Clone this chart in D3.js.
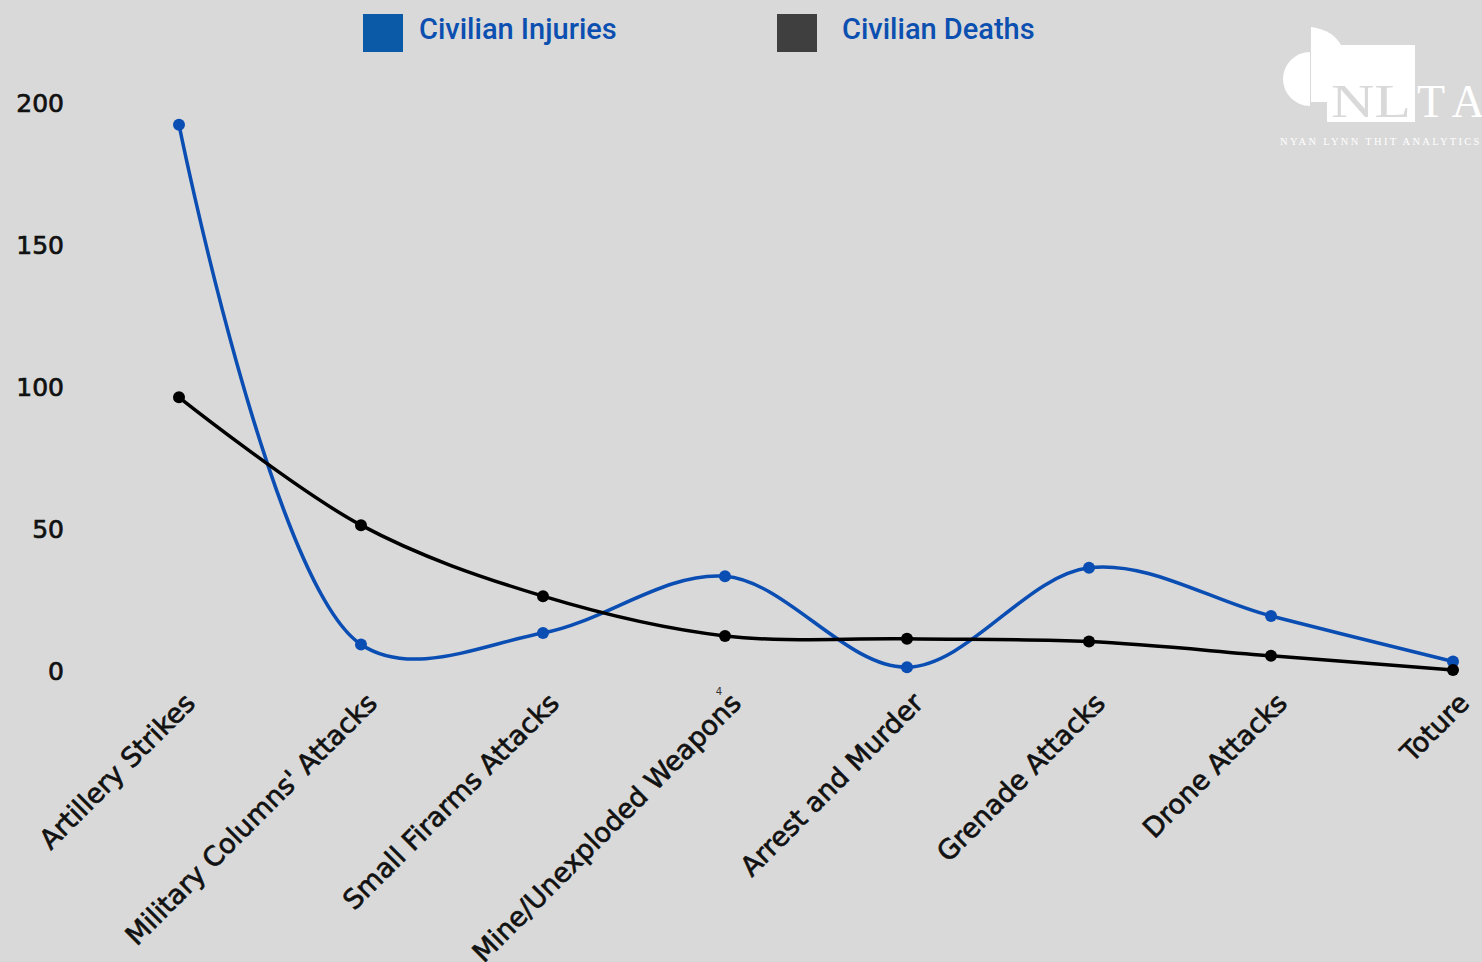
<!DOCTYPE html>
<html>
<head>
<meta charset="utf-8">
<script src="https://cdn.jsdelivr.net/npm/d3@7"></script>
<style>
  html, body { margin: 0; padding: 0; background: #d9d9d9; }
  svg { display: block; }
</style>
</head>
<body>
<svg id="chart" width="1482" height="962"></svg>
<script>
// Harm types along the x axis
const categories = [
  "Artillery Strikes",
  "Military Columns' Attacks",
  "Small Firarms Attacks",
  "Mine/Unexploded Weapons",
  "Arrest and Murder",
  "Grenade Attacks",
  "Drone Attacks",
  "Toture"
];
const injuries = [192, 9, 13, 33, 1, 36, 19, 3];
const deaths   = [96, 51, 26, 12, 11, 10, 5, 0];
const yTicks = [0, 50, 100, 150, 200];
const seriesNames = ["Civilian Injuries", "Civilian Deaths"];

const svg = d3.select("#chart");
const W = 1482, H = 962;

svg.append("rect").attr("width", W).attr("height", H).attr("fill", "#d9d9d9");

const x = d3.scalePoint().domain(categories).range([179, 1453]);
const y = d3.scaleLinear().domain([0, 200]).range([670, 102]);

const font = "'DejaVu Sans', sans-serif";

// y axis labels (no axis line)
const yAxis = d3.axisLeft(y).tickValues(yTicks).tickSize(0).tickPadding(0);
const gy = svg.append("g").attr("transform", "translate(64,0)").call(yAxis);
gy.select(".domain").remove();
gy.selectAll("text")
  .attr("font-family", font).attr("font-size", 25)
  .attr("fill", "#111").attr("stroke", "#111").attr("stroke-width", 0.7)
  .attr("dy", "0.36em");

// x axis labels rotated
const xAxis = d3.axisBottom(x).tickSize(0).tickPadding(0);
const gx = svg.append("g").call(xAxis);
gx.select(".domain").remove();
gx.selectAll(".tick").attr("transform", d => `translate(${x(d) + 4},${691})`);
gx.selectAll("text")
  .attr("font-family", font).attr("font-size", 27)
  .attr("fill", "#111").attr("stroke", "#111").attr("stroke-width", 0.7)
  .attr("text-anchor", "end")
  .attr("dy", "0.72em").attr("y", 0)
  .attr("transform", "rotate(-45)");

// small stray label
svg.append("text").attr("x", 719).attr("y", 695)
  .attr("text-anchor", "middle")
  .attr("font-family", font).attr("font-size", 10).attr("fill", "#333").text("4");

const line = d3.line()
  .x((d, i) => x(categories[i]))
  .y(d => y(d))
  .curve(d3.curveCatmullRom.alpha(0.5));

const series = [
  { name: seriesNames[0], values: injuries, color: "#0a4db3" },
  { name: seriesNames[1], values: deaths, color: "#000000" }
];

series.forEach(s => {
  svg.append("path")
    .datum(s.values)
    .attr("d", line)
    .attr("fill", "none")
    .attr("stroke", s.color)
    .attr("stroke-width", 3.5);
  svg.append("g").selectAll("circle")
    .data(s.values)
    .join("circle")
    .attr("cx", (d, i) => x(categories[i]))
    .attr("cy", d => y(d))
    .attr("r", 6)
    .attr("fill", s.color);
});

// legend
const legend = [
  { label: seriesNames[0], swatch: "#0b5aa8", x: 363, tx: 419 },
  { label: seriesNames[1], swatch: "#3f3f3f", x: 777, tx: 842 }
];
legend.forEach(l => {
  svg.append("rect").attr("x", l.x).attr("y", 14).attr("width", 40).attr("height", 38).attr("fill", l.swatch);
  svg.append("text").attr("x", l.tx).attr("y", 39)
    .attr("font-family", "Roboto, sans-serif").attr("font-size", 29).attr("font-weight", 500)
    .attr("fill", "#0b4fb0").text(l.label);
});

// logo mark
const logo = svg.append("g");
logo.append("path")
  .attr("d", "M1310,52 A27,27 0 0 0 1310,106 Z")
  .attr("fill", "#fff");
logo.append("path")
  .attr("d", "M1311,27 Q1334,30 1342,47 L1342,102 L1311,102 Z")
  .attr("fill", "#fff");
logo.append("rect").attr("x", 1327).attr("y", 45).attr("width", 88).attr("height", 77).attr("fill", "#fff");
logo.append("text").attr("x", 1331).attr("y", 117)
  .attr("font-family", "'Liberation Serif', serif").attr("font-size", 46)
  .attr("fill", "#d9d9d9").attr("textLength", 80).attr("lengthAdjust", "spacingAndGlyphs").text("NL");
logo.append("text").attr("x", 1417).attr("y", 117)
  .attr("font-family", "'Liberation Serif', serif").attr("font-size", 46)
  .attr("letter-spacing", 10)
  .attr("fill", "#fff").text("TA");
logo.append("text").attr("x", 1280).attr("y", 145)
  .attr("font-family", "'Liberation Serif', serif").attr("font-size", 10.5)
  .attr("letter-spacing", 2.3)
  .attr("fill", "#fff").text("NYAN LYNN THIT ANALYTICS");
</script>
</body>
</html>
